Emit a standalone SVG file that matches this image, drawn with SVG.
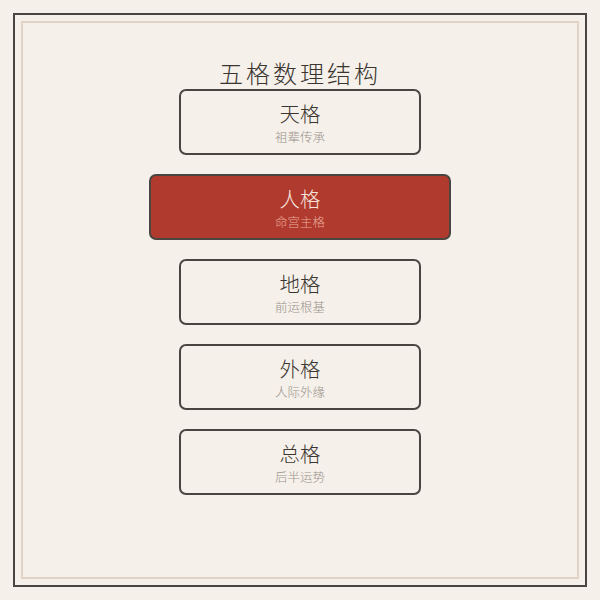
<svg xmlns="http://www.w3.org/2000/svg" width="600" height="600" viewBox="0 0 600 600">
<style>
text{font-family:"Noto Sans CJK SC","Noto Sans",sans-serif;text-anchor:middle}
.box{fill:none;stroke:#4a4540;stroke-width:2}
.hl{fill:#b03a2e;stroke:#4a4540;stroke-width:2}
.t{font-size:20.5px;fill:#3a3530;font-weight:300}
.s{font-size:12.5px;fill:#9a928a;font-weight:300}
.th{font-size:20.5px;fill:#f6e4dc;font-weight:300}
.sh{font-size:12.5px;fill:#e9aa9c;font-weight:300}
</style>
<rect width="600" height="600" fill="#f5f0ea"/>
<rect x="14" y="14" width="572" height="572" fill="none" stroke="#4a4540" stroke-width="2"/>
<rect x="22" y="22" width="556" height="556" fill="none" stroke="#e2d3c8" stroke-width="2"/>
<text x="300" y="83" font-size="24" fill="#3a3530" font-weight="300" letter-spacing="3">五格数理结构</text>
<g id="connectors"></g>
<g id="tiange">
<rect class="box" x="180" y="90" width="240" height="64" rx="6"/>
<text class="t" x="300" y="122">天格</text>
<text class="s" x="300" y="142">祖辈传承</text>
</g>
<g id="renge">
<rect class="hl" x="150" y="175" width="300" height="64" rx="6"/>
<text class="th" x="300" y="207">人格</text>
<text class="sh" x="300" y="227">命宫主格</text>
</g>
<g id="dige">
<rect class="box" x="180" y="260" width="240" height="64" rx="6"/>
<text class="t" x="300" y="292">地格</text>
<text class="s" x="300" y="312">前运根基</text>
</g>
<g id="waige">
<rect class="box" x="180" y="345" width="240" height="64" rx="6"/>
<text class="t" x="300" y="377">外格</text>
<text class="s" x="300" y="397">人际外缘</text>
</g>
<g id="zongge">
<rect class="box" x="180" y="430" width="240" height="64" rx="6"/>
<text class="t" x="300" y="462">总格</text>
<text class="s" x="300" y="482">后半运势</text>
</g>
</svg>
